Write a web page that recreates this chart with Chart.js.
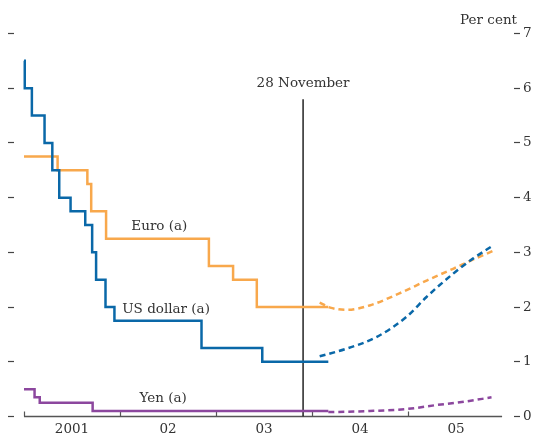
<!DOCTYPE html>
<html>
<head>
<meta charset="utf-8">
<script src="https://cdn.jsdelivr.net/npm/chart.js@4.4.1/dist/chart.umd.min.js"></script>
<style>
  html, body { margin: 0; padding: 0; background: #ffffff; }
  #wrap { width: 547px; height: 436px; }
</style>
</head>
<body>
<div id="wrap"><canvas id="c" width="547" height="436"></canvas></div>
<script>
// ---- data (x in decimal years) ----
const usDates   = [2001.0, 2001.008, 2001.082, 2001.214, 2001.295, 2001.367, 2001.485, 2001.638, 2001.71, 2001.751, 2001.849, 2001.942, 2002.849, 2003.482, 2004.17];
const usRates   = [6.5, 6.0, 5.5, 5.0, 4.5, 4.0, 3.75, 3.5, 3.0, 2.5, 2.0, 1.75, 1.25, 1.0, 1.0];
const euroDates = [2001.0, 2001.35, 2001.66, 2001.70, 2001.855, 2002.926, 2003.178, 2003.425, 2004.17];
const euroRates = [4.75, 4.5, 4.25, 3.75, 3.25, 2.75, 2.5, 2.0, 2.0];
const yenDates  = [2001.0, 2001.11, 2001.164, 2001.715, 2004.17];
const yenRates  = [0.5, 0.35, 0.25, 0.1, 0.1];

const usFwdDates   = [2004.08, 2004.36, 2004.67, 2004.99, 2005.19, 2005.47, 2005.68, 2005.89];
const usFwdRates   = [1.10, 1.24, 1.45, 1.83, 2.18, 2.61, 2.89, 3.13];
const euroFwdDates = [2004.08, 2004.19, 2004.36, 2004.60, 2004.91, 2005.20, 2005.47, 2005.68, 2005.89];
const euroFwdRates = [2.08, 1.99, 1.95, 2.03, 2.25, 2.49, 2.70, 2.87, 3.03];
const yenFwdDates  = [2004.17, 2004.60, 2005.00, 2005.30, 2005.58, 2005.87];
const yenFwdRates  = [0.08, 0.10, 0.14, 0.21, 0.27, 0.35];

const markerDate = 2003.907;   // 28 November 2003
const markerTop  = 5.8;
const markerLabel = '28 November';

const yearTicks  = [2001, 2002, 2003, 2004, 2005];
const yearLabels = ['2001', '02', '03', '04', '05'];
const axisEnd    = 2005.98;

const seriesLabels = [
  { text: 'Euro (a)',      x: 2002.41, y: 3.47 },
  { text: 'US dollar (a)', x: 2002.48, y: 1.95 },
  { text: 'Yen (a)',       x: 2002.45, y: 0.33 }
];
const unitLabel = 'Per cent';

// ---- styles ----
const BLUE = '#0a68a8', ORANGE = '#f8a84c', PURPLE = '#8c479e', TXT = '#333333';
const FONT = 'DejaVu Serif';

const pts = (xs, ys) => xs.map((x, i) => ({ x, y: ys[i] }));

const annot = {
  id: 'annot',
  beforeDatasetsDraw(chart) {
    const { ctx, scales: { x, y } } = chart;
    const y0 = y.getPixelForValue(0);
    ctx.save();
    ctx.strokeStyle = '#555';
    ctx.lineWidth = 1.5;
    ctx.beginPath();
    ctx.moveTo(x.getPixelForValue(yearTicks[0]), y0);
    ctx.lineTo(x.getPixelForValue(axisEnd), y0);
    ctx.stroke();
    ctx.lineWidth = 1.2;
    yearTicks.forEach(v => {
      const px = Math.round(x.getPixelForValue(v)) + 0.5;
      ctx.beginPath();
      ctx.moveTo(px, y0);
      ctx.lineTo(px, y0 - 5);
      ctx.stroke();
    });
    ctx.restore();
  },
  afterDatasetsDraw(chart) {
    const { ctx, scales: { x, y }, chartArea } = chart;
    ctx.save();
    ctx.fillStyle = TXT;
    ctx.font = '13.5px "' + FONT + '"';
    ctx.textAlign = 'center';
    ctx.textBaseline = 'middle';
    seriesLabels.forEach(l => ctx.fillText(l.text, x.getPixelForValue(l.x), y.getPixelForValue(l.y)));
    ctx.fillText(markerLabel, x.getPixelForValue(markerDate), y.getPixelForValue(markerTop) - 16);
    ctx.textAlign = 'right';
    ctx.fillText(unitLabel, chartArea.right + 3, chartArea.top - 13);
    ctx.restore();
  }
};

new Chart(document.getElementById('c'), {
  type: 'line',
  data: {
    datasets: [
      { data: pts(usDates, usRates), borderColor: BLUE, borderWidth: 2.5, stepped: true, pointRadius: 0 },
      { data: pts(euroDates, euroRates), borderColor: ORANGE, borderWidth: 2.5, stepped: true, pointRadius: 0 },
      { data: pts(yenDates, yenRates), borderColor: PURPLE, borderWidth: 2.5, stepped: true, pointRadius: 0 },
      { data: pts(usFwdDates, usFwdRates), borderColor: BLUE, borderWidth: 2.5, borderDash: [6, 4], tension: 0.4, cubicInterpolationMode: 'monotone', pointRadius: 0 },
      { data: pts(euroFwdDates, euroFwdRates), borderColor: ORANGE, borderWidth: 2.5, borderDash: [6, 4], tension: 0.4, cubicInterpolationMode: 'monotone', pointRadius: 0 },
      { data: pts(yenFwdDates, yenFwdRates), borderColor: PURPLE, borderWidth: 2.5, borderDash: [6, 4], tension: 0.4, cubicInterpolationMode: 'monotone', pointRadius: 0 },
      { data: [{ x: markerDate, y: 0 }, { x: markerDate, y: markerTop }], borderColor: '#000', borderWidth: 1.3, pointRadius: 0 }
    ]
  },
  options: {
    responsive: false,
    animation: false,
    devicePixelRatio: 1,
    layout: { padding: { top: 33.5, bottom: 0, left: 0, right: 0 } },
    plugins: { legend: { display: false }, tooltip: { enabled: false } },
    scales: {
      x: {
        type: 'linear',
        position: 'bottom',
        min: 2001 - 10 / 96,
        max: 2006 + 10 / 96,
        grid: { display: false, drawTicks: false },
        border: { display: false },
        afterBuildTicks: s => { s.ticks = yearTicks.map(v => ({ value: v + 0.5 })); },
        ticks: {
          autoSkip: false,
          maxRotation: 0,
          padding: 5,
          color: TXT,
          font: { family: FONT, size: 13.5 },
          callback: v => yearLabels[yearTicks.indexOf(Math.floor(v))]
        },
        afterFit: s => { s.height = 19.5; }
      },
      yl: {
        type: 'linear',
        position: 'left',
        min: 0, max: 7,
        ticks: { display: false, stepSize: 1 },
        grid: { drawOnChartArea: false, tickLength: 6, tickColor: '#444', tickWidth: 1.2 },
        border: { display: false },
        afterFit: s => { s.width = 14; }
      },
      y: {
        type: 'linear',
        position: 'right',
        min: 0, max: 7,
        ticks: { stepSize: 1, padding: 3, color: TXT, font: { family: FONT, size: 13.5 } },
        grid: { drawOnChartArea: false, tickLength: 6, tickColor: '#444', tickWidth: 1.2 },
        border: { display: false },
        afterFit: s => { s.width = 33; }
      }
    }
  },
  plugins: [annot]
});
</script>
</body>
</html>
